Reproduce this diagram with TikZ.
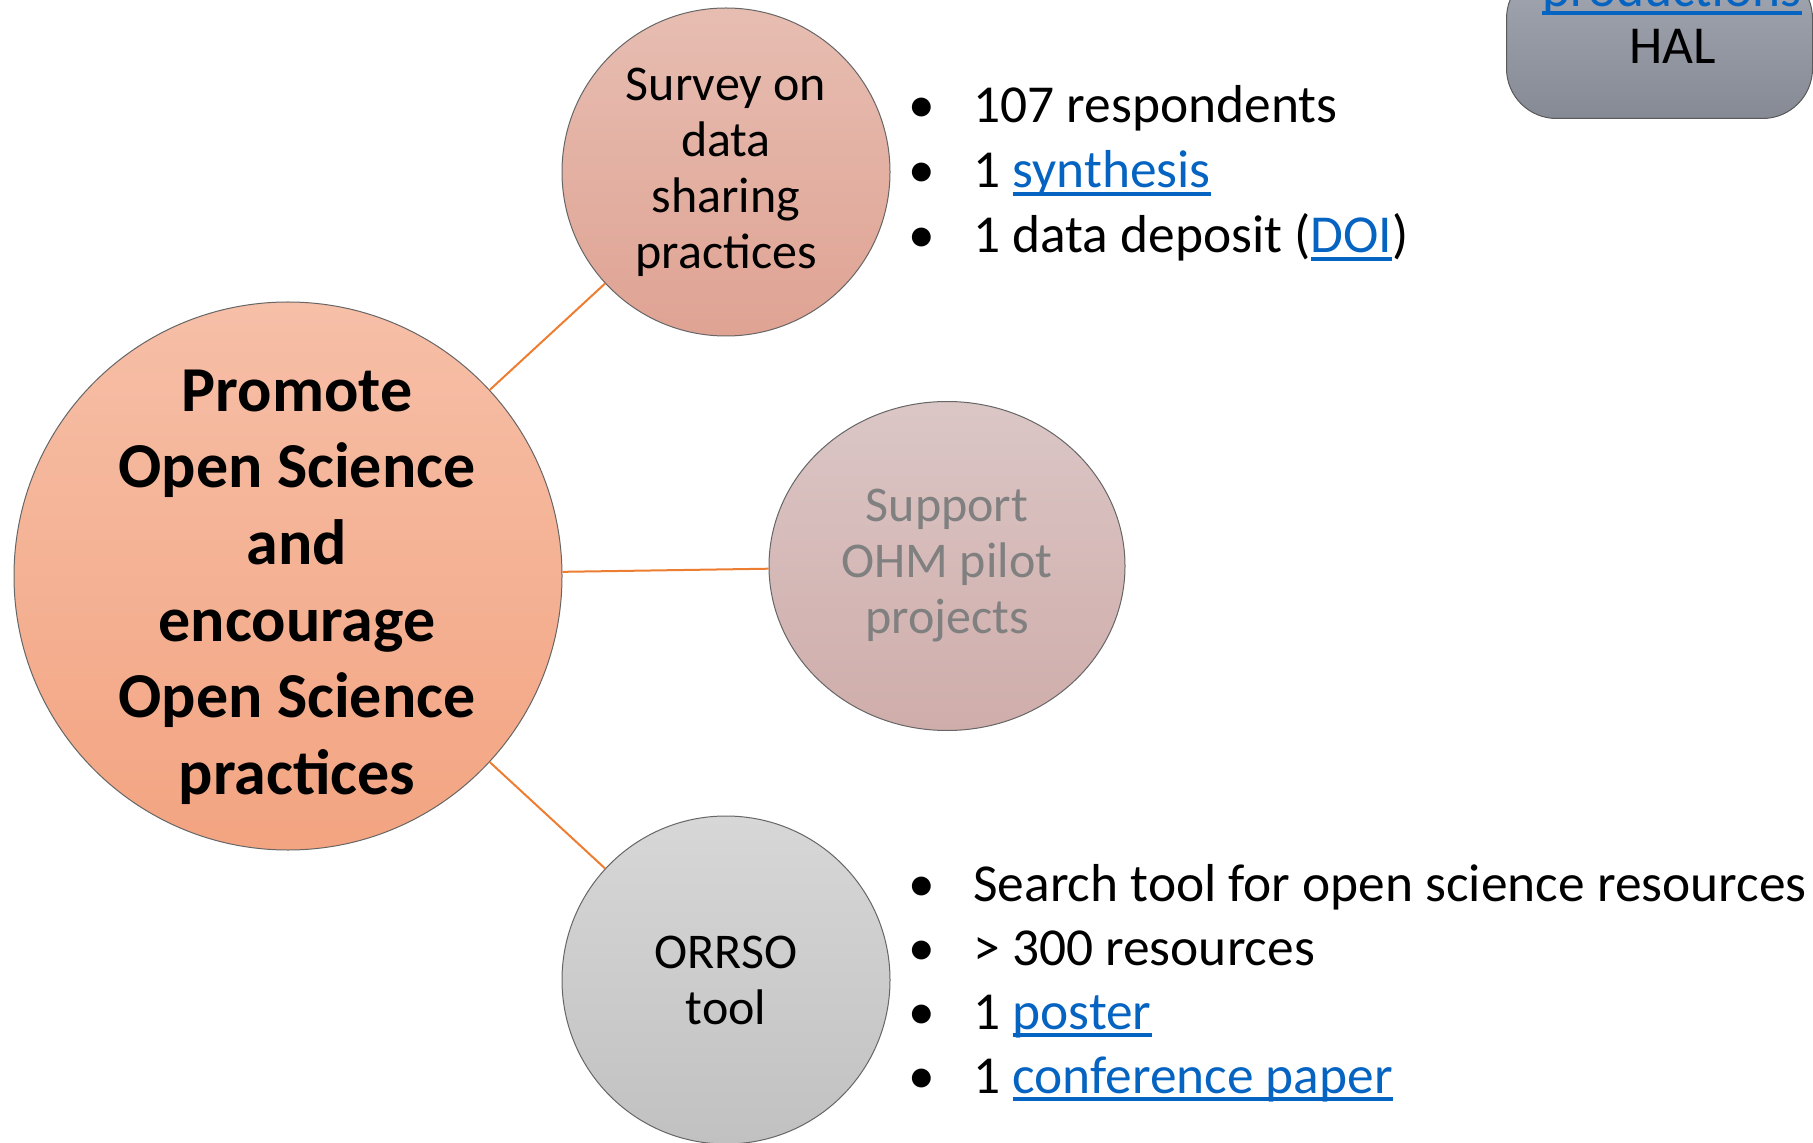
\documentclass[tikz,border=0pt]{standalone}
\usepackage{fontspec}
\setmainfont{Carlito}
\usetikzlibrary{shapes.geometric}

\definecolor{linkblue}{RGB}{5,99,193}
\definecolor{branchorange}{RGB}{237,125,49}
\newcommand{\lnk}[1]{\textcolor{linkblue}{\setbox0\hbox{#1}\rlap{\rule[-4pt]{\wd0}{1.8pt}}\box0}}
\newcommand{\bul}{\makebox[32.5pt][l]{\textbullet}}

\begin{document}
\begin{tikzpicture}[x=0.5pt, y=0.5pt,
    bubble/.style={circle, draw=black!60, line width=0.5pt, inner sep=0pt,
      align=center, font=\fontsize{25}{28}\selectfont},
    item/.style={anchor=base west, inner sep=0pt, font=\fontsize{26.7}{32.5}\selectfont},
    branch/.style={draw=branchorange, line width=1pt}]
  \useasboundingbox (0,0) rectangle (1813,1142);

  \node[draw=black!65, line width=0.5pt, rounded corners=25pt,
    top color={rgb,255:red,163;green,167;blue,177}, bottom color={rgb,255:red,133;green,138;blue,149},
    minimum width=153pt, minimum height=75pt, anchor=south west] (halbox) at (1506,1023) {};
  \node[anchor=base, inner sep=0pt, font=\fontsize{26.7}{30}\selectfont] (prod) at (1672,1135) {\lnk{productions}};
  \node[anchor=base, inner sep=0pt, font=\fontsize{26.7}{30}\selectfont] (hal) at (1673,1078) {HAL};

  \node[bubble, minimum size=274pt,
    top color={rgb,255:red,246;green,191;blue,167}, bottom color={rgb,255:red,243;green,164;blue,129}]
    (main) at (288,566) {};
  \node[align=center, inner sep=0pt, font=\fontsize{32}{38.3}\selectfont\bfseries]
    (maintext) at (297,555) {Promote\\Open Science\\and\\encourage\\Open Science\\practices};

  \node[bubble, minimum size=164pt,
    top color={rgb,255:red,231;green,189;blue,178}, bottom color={rgb,255:red,223;green,163;blue,147}]
    (survey) at (726,970) {Survey on\\data\\sharing\\practices};

  \node[bubble, ellipse, minimum width=178pt, minimum height=164.5pt, text=black!50,
    top color={rgb,255:red,219;green,198;blue,198}, bottom color={rgb,255:red,207;green,173;blue,170}]
    (support) at (947,576) {Support\\OHM pilot\\projects};

  \node[bubble, minimum size=164pt,
    top color={rgb,255:red,215;green,215;blue,215}, bottom color={rgb,255:red,193;green,193;blue,193}]
    (orrso) at (726,162) {ORRSO\\tool};

  \draw[branch] (main) -- (survey);
  \draw[branch] (main) -- (support);
  \draw[branch] (main) -- (orrso);

  \foreach \txt [count=\i from 0] in {{107 respondents}, {1 \lnk{synthesis}}, {1 data deposit (\lnk{DOI})}}
    \node[item] (s\i) at (908,{1019-65*\i}) {\bul\txt};

  \foreach \txt [count=\i from 0] in {{Search tool for open science resources}, {> 300 resources},
      {1 \lnk{poster}}, {1 \lnk{conference paper}}}
    \node[item] (o\i) at (908,{241-64*\i}) {\bul\txt};
\end{tikzpicture}
\end{document}
